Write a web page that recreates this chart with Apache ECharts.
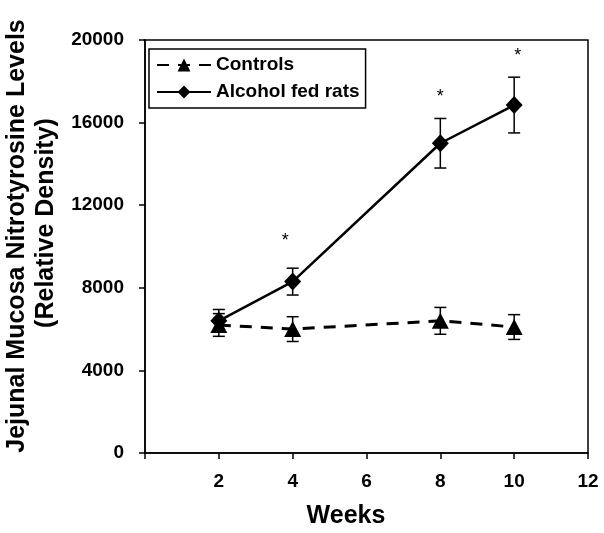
<!DOCTYPE html>
<html><head><meta charset="utf-8">
<script src="https://cdn.jsdelivr.net/npm/echarts@6/dist/echarts.min.js"></script>
<style>html,body{margin:0;padding:0;background:#fff}#c{width:604px;height:533px}</style>
</head><body><div id="c"></div>
<script>
// ---- data ----
const weeks = [2, 4, 8, 10];
const controls = [6200, 6000, 6400, 6100];
const controlsErr = [550, 600, 650, 600];
const alcohol = [6400, 8300, 15000, 16850];
const alcoholErr = [550, 650, 1200, 1350];
const sigWeeks = [3.8, 8.0, 10.1];
const sigY = [10250, 17250, 19200];
const xTicks = [0, 2, 4, 6, 8, 10, 12];
const yTicks = [0, 4000, 8000, 12000, 16000, 20000];
const seriesNames = ['Controls', 'Alcohol fed rats'];
const yTitle1 = 'Jejunal Mucosa Nitrotyrosine Levels';
const yTitle2 = '(Relative Density)';
const xTitle = 'Weeks';

const FONT = "'Liberation Sans', Arial, sans-serif";
const chart = echarts.init(document.getElementById('c'), null, {renderer: 'canvas'});

function errData(ys, es) {
  return weeks.map((w, i) => [w, ys[i], ys[i] - es[i], ys[i] + es[i]]);
}
function errRender(params, api) {
  const x = api.value(0);
  const lo = api.coord([x, api.value(2)]);
  const hi = api.coord([x, api.value(3)]);
  const hw = 6;
  const st = {stroke: '#000', lineWidth: 1.5};
  return {type: 'group', children: [
    {type: 'line', shape: {x1: lo[0], y1: lo[1], x2: hi[0], y2: hi[1]}, style: st},
    {type: 'line', shape: {x1: lo[0] - hw, y1: lo[1], x2: lo[0] + hw, y2: lo[1]}, style: st},
    {type: 'line', shape: {x1: hi[0] - hw, y1: hi[1], x2: hi[0] + hw, y2: hi[1]}, style: st}
  ]};
}
function sigRender(params, api) {
  const p = api.coord([api.value(0), api.value(1)]);
  return {type: 'text', x: p[0], y: p[1],
    style: {text: '*', font: '18px ' + FONT, fill: '#000', align: 'center', verticalAlign: 'middle'}};
}

const option = {
  backgroundColor: '#fff',
  animation: false,
  grid: {left: 145, right: 16, top: 40, bottom: 80, show: true, borderColor: '#000', borderWidth: 1.5, backgroundColor: 'transparent'},
  legend: {
    orient: 'vertical', left: 149, top: 49,
    data: seriesNames,
    itemWidth: 54, itemHeight: 16, itemGap: 7, itemTextGap: 3,
    padding: [6, 6, 6, 7],
    borderColor: '#000', borderWidth: 1.5, backgroundColor: '#fff',
    textStyle: {fontFamily: FONT, fontWeight: 'bold', fontSize: 19, color: '#000', lineHeight: 20}
  },
  xAxis: {
    type: 'value', min: xTicks[0], max: xTicks[xTicks.length - 1], interval: 2,
    splitLine: {show: false},
    axisLine: {lineStyle: {color: '#000', width: 1.5}},
    axisTick: {show: true, inside: false, length: 6, lineStyle: {color: '#000', width: 1.5}},
    axisLabel: {margin: 19, color: '#000', fontFamily: FONT, fontWeight: 'bold', fontSize: 19,
      formatter: v => (v === 0 ? '' : String(v))}
  },
  yAxis: {
    type: 'value', min: yTicks[0], max: yTicks[yTicks.length - 1], interval: 4000,
    splitLine: {show: false},
    axisLine: {show: true, lineStyle: {color: '#000', width: 1.5}},
    axisTick: {show: true, inside: false, length: 6, lineStyle: {color: '#000', width: 1.5}},
    axisLabel: {margin: 21, color: '#000', fontFamily: FONT, fontWeight: 'bold', fontSize: 19,
      formatter: v => String(v)}
  },
  graphic: [
    {type: 'text', x: 17, y: 236, rotation: Math.PI / 2,
      style: {text: yTitle1, font: "bold 25px " + FONT, fill: '#000', align: 'center', verticalAlign: 'middle'}},
    {type: 'text', x: 46, y: 223, rotation: Math.PI / 2,
      style: {text: yTitle2, font: "bold 25px " + FONT, fill: '#000', align: 'center', verticalAlign: 'middle'}},
    {type: 'text', x: 346, y: 516,
      style: {text: xTitle, font: "bold 25px " + FONT, fill: '#000', align: 'center', verticalAlign: 'middle'}}
  ],
  series: [
    {type: 'custom', name: 'ctrlErr', renderItem: errRender, data: errData(controls, controlsErr), z: 1, silent: true},
    {type: 'custom', name: 'alcErr', renderItem: errRender, data: errData(alcohol, alcoholErr), z: 1, silent: true},
    {type: 'line', name: seriesNames[0], data: weeks.map((w, i) => [w, controls[i]]),
      symbol: 'triangle', symbolSize: [17, 16], showSymbol: true,
      lineStyle: {color: '#000', width: 3, type: [12, 9]},
      itemStyle: {color: '#000'}, z: 3},
    {type: 'line', name: seriesNames[1], data: weeks.map((w, i) => [w, alcohol[i]]),
      symbol: 'diamond', symbolSize: [17, 18], showSymbol: true,
      lineStyle: {color: '#000', width: 2.5, type: 'solid'},
      itemStyle: {color: '#000'}, z: 4},
    {type: 'custom', name: 'sig', renderItem: sigRender, data: sigWeeks.map((w, i) => [w, sigY[i]]), z: 5, silent: true}
  ]
};
chart.setOption(option);
</script>
</body></html>
